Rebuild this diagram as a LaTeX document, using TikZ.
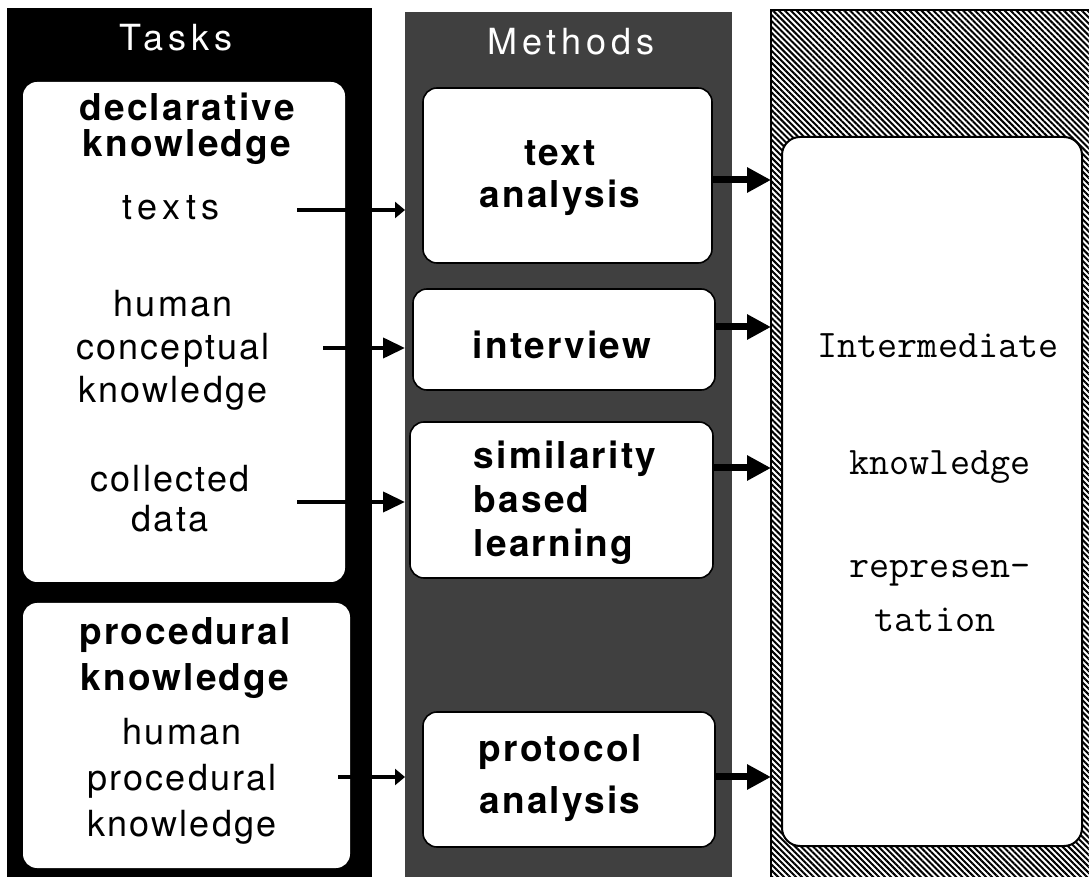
\documentclass[tikz,border=0pt]{standalone}
\usepackage{fontspec}
\usetikzlibrary{arrows.meta,patterns.meta}

\newfontfamily\labelfont{TeX Gyre Heros}[LetterSpace=6]
\newfontfamily\widefont{TeX Gyre Heros}[LetterSpace=16]
\newfontfamily\titlefont{TeX Gyre Heros}[LetterSpace=14]

\tikzset{
	column/.style={inner sep=0pt, outer sep=0pt},
	taskbox/.style={fill=white, rounded corners=7pt, inner sep=0pt},
	methodbox/.style={draw=black, line width=0.8pt, fill=white, rounded corners=7pt, inner sep=0pt},
	reprbox/.style={draw=black, line width=1pt, fill=white, rounded corners=9pt, inner sep=0pt},
	titletext/.style={text=white, inner sep=0pt, font=\titlefont\fontsize{18}{18}\selectfont},
	headtext/.style={align=center, inner sep=0pt, font=\labelfont\bfseries\fontsize{18.5}{#1}\selectfont},
	itemtext/.style={align=center, inner sep=0pt, font=\labelfont\fontsize{18}{#1}\selectfont},
	reprtext/.style={anchor=base, inner sep=0pt, font=\ttfamily\fontsize{19.5}{20}\selectfont},
	feedarrow/.style={line width=2pt, -{Triangle[length=11pt,width=10pt]}},
	feeddot/.style={line width=2pt, -{Triangle[length=5pt,width=8pt]}},
	outarrow/.style={line width=3.5pt, -{Triangle[length=12pt,width=12pt]}},
}

\begin{document}
\begin{tikzpicture}[x=0.5pt,y=-0.5pt]
	\useasboundingbox (0,0) rectangle (1089,877);

	% the three columns
	\node[column, fill=black, minimum width=182.5pt, minimum height=438.5pt] (taskcol) at (189.5,446.5) {};
	\node[column, fill=black!75, minimum width=163.5pt, minimum height=436.5pt] (methodcol) at (568.5,448.5) {};
	\node[column, draw, line width=1pt, pattern={Lines[angle=-45,distance=2.1pt,line width=1pt]},
		minimum width=164.5pt, minimum height=437.5pt] (reprcol) at (935.5,447.5) {};

	\node[titletext] (tasks) at (176,38) {Tasks};
	\node[titletext] (methods) at (571,42) {Methods};

	% boxes
	\node[taskbox, minimum width=161pt, minimum height=250pt] (decl) at (184,332) {};
	\node[taskbox, minimum width=163.5pt, minimum height=132.5pt] (proc) at (186.5,735.5) {};
	\node[methodbox, minimum width=144.5pt, minimum height=87.5pt] (textan) at (567.5,175.5) {};
	\node[methodbox, minimum width=151pt, minimum height=50.5pt] (interview) at (564,339.5) {};
	\node[methodbox, minimum width=151.5pt, minimum height=78pt] (simil) at (561.5,500) {};
	\node[methodbox, minimum width=146pt, minimum height=67.5pt] (protan) at (569,779.5) {};
	\node[reprbox, minimum width=150pt, minimum height=354.5pt] (interm) at (932,491.5) {};

	% task texts
	\node[headtext=18] (decltext) at (187,129) {declarative\\knowledge};
	\node[itemtext=18, font=\widefont\fontsize{18}{18}\selectfont] (textstext) at (171,208) {texts};
	\node[itemtext=21.5] (humtext) at (173,350) {human\\conceptual\\knowledge};
	\node[itemtext=20] (colltext) at (170,499) {collected\\data};
	\node[headtext=23] (proctext) at (185,658) {procedural\\knowledge};
	\node[itemtext=23] (humproctext) at (182,781) {human\\procedural\\knowledge};

	% method texts
	\node[headtext=21] (textantext) at (560,178) {text\\analysis};
	\node[headtext=19] (intvtext) at (562,345) {interview};
	\node[headtext=22, align=left] (simtext) at (565,503) {similarity\\based\\learning};
	\node[headtext=26] (prottext) at (560,778) {protocol\\analysis};

	\node[reprtext] (intertext) at (938,358) {Intermediate};
	\node[reprtext] (knowtext) at (940,475) {knowledge};
	\node[reprtext] (represtext) at (940,578) {represen-};
	\node[reprtext] (tationtext) at (935,632) {tation};

	% connectors
	\coordinate (textsfrom) at (297,210);
	\coordinate (humfrom) at (323,348);
	\coordinate (collfrom) at (297,502);
	\coordinate (procfrom) at (338,777);
	\draw[feeddot] (textsfrom) -- (textsfrom -| methodcol.west);
	\draw[feedarrow] (humfrom) -- (humfrom -| methodcol.west);
	\draw[feedarrow] (collfrom) -- (collfrom -| methodcol.west);
	\draw[feeddot] (procfrom) -- (procfrom -| methodcol.west);

	\draw[outarrow] ([yshift=-2.25pt]textan.east) -- ([yshift=-2.25pt]textan.east -| reprcol.west);
	\draw[outarrow] ([yshift=6.25pt]interview.east) -- ([yshift=6.25pt]interview.east -| reprcol.west);
	\draw[outarrow] ([yshift=16pt]simil.east) -- ([yshift=16pt]simil.east -| reprcol.west);
	\draw[outarrow] ([yshift=1.25pt]protan.east) -- ([yshift=1.25pt]protan.east -| reprcol.west);
\end{tikzpicture}
\end{document}
